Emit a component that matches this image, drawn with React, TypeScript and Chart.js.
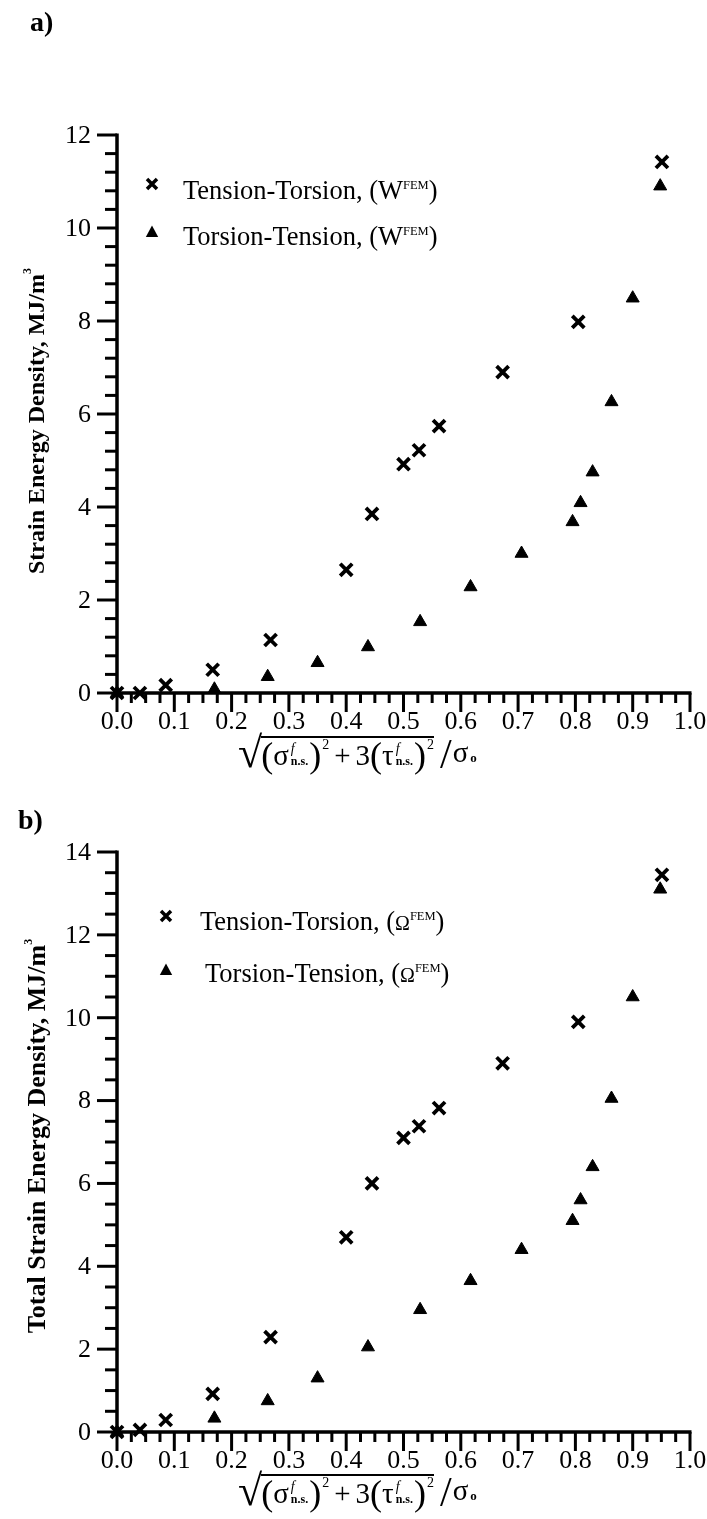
import React, { useEffect, useRef } from "react";
import { Chart, registerables } from "chart.js";

Chart.register(...registerables);

// ---------- data ----------
const xTickLabels = ["0.0", "0.1", "0.2", "0.3", "0.4", "0.5", "0.6", "0.7", "0.8", "0.9", "1.0"];
const topYTickLabels = ["0", "2", "4", "6", "8", "10", "12"];
const bottomYTickLabels = ["0", "2", "4", "6", "8", "10", "12", "14"];

// normalised equivalent stress (x) for each loading path
const xTensionTorsion = [0, 0.04, 0.085, 0.167, 0.268, 0.40, 0.445, 0.50, 0.527, 0.562, 0.673, 0.805, 0.951];
const xTorsionTension = [0, 0.17, 0.263, 0.35, 0.438, 0.529, 0.617, 0.706, 0.795, 0.809, 0.83, 0.863, 0.90, 0.948];

// a) strain energy density W (MJ/m^3)
const wTensionTorsion = [0, 0, 0.17, 0.5, 1.14, 2.65, 3.85, 4.92, 5.22, 5.74, 6.9, 7.98, 11.42];
const wTorsionTension = [0, 0.08, 0.35, 0.65, 0.99, 1.53, 2.28, 3.0, 3.68, 4.09, 4.75, 6.26, 8.49, 10.9];

// b) total strain energy density Omega (MJ/m^3)
const omegaTensionTorsion = [0, 0.05, 0.29, 0.92, 2.29, 4.7, 6.0, 7.1, 7.38, 7.82, 8.9, 9.9, 13.45];
const omegaTorsionTension = [0, 0.33, 0.75, 1.3, 2.05, 2.95, 3.65, 4.4, 5.1, 5.6, 6.4, 8.05, 10.5, 13.1];

const SERIF = "'Liberation Serif', 'Times New Roman', serif";

type PanelCfg = {
  top: number;
  height: number;
  yMax: number;
  yMinor: number;
  yLabels: string[];
  padding: { left: number; right: number; top: number; bottom: number };
  ttY: number[];
  trY: number[];
  legend: { x: number; y1: number; y2: number };
};

function drawCross(ctx: CanvasRenderingContext2D, x: number, y: number, h: number) {
  ctx.beginPath();
  ctx.moveTo(x - h, y - h);
  ctx.lineTo(x + h, y + h);
  ctx.moveTo(x + h, y - h);
  ctx.lineTo(x - h, y + h);
  ctx.stroke();
}

function drawTri(ctx: CanvasRenderingContext2D, x: number, y: number, s: number) {
  ctx.beginPath();
  ctx.moveTo(x, y - s);
  ctx.lineTo(x + s * 0.95, y + s * 0.75);
  ctx.lineTo(x - s * 0.95, y + s * 0.75);
  ctx.closePath();
  ctx.fill();
}

function makeAxesPlugin(cfg: PanelCfg) {
  return {
    id: "paperAxes",
    beforeDatasetsDraw(chart: any) {
      const ctx: CanvasRenderingContext2D = chart.ctx;
      const xs = chart.scales.x;
      const ys = chart.scales.y;
      const X = (v: number) => xs.getPixelForValue(v);
      const Y = (v: number) => ys.getPixelForValue(v);
      const x0 = X(0);
      const x1 = X(1);
      const y0 = Y(0);
      const yT = Y(cfg.yMax);
      ctx.save();
      ctx.strokeStyle = "#000";
      ctx.fillStyle = "#000";
      ctx.lineWidth = 3.5;
      ctx.beginPath();
      ctx.moveTo(x0, yT - 1.5);
      ctx.lineTo(x0, y0 + 1.5);
      ctx.moveTo(x0 - 1.5, y0);
      ctx.lineTo(x1 + 1.5, y0);
      ctx.stroke();

      ctx.lineWidth = 3;
      const nY = Math.round(cfg.yMax / cfg.yMinor);
      for (let i = 0; i <= nY; i++) {
        const v = i * cfg.yMinor;
        const major = Math.abs(v / 2 - Math.round(v / 2)) < 1e-6;
        const len = major ? 20 : 12;
        const py = Y(v);
        ctx.beginPath();
        ctx.moveTo(x0, py);
        ctx.lineTo(x0 - len, py);
        ctx.stroke();
      }
      for (let i = 0; i <= 40; i++) {
        const v = i * 0.025;
        const major = i % 4 === 0;
        const len = major ? 19 : 10;
        const px = X(v);
        ctx.beginPath();
        ctx.moveTo(px, y0);
        ctx.lineTo(px, y0 + len);
        ctx.stroke();
      }

      ctx.font = `26px ${SERIF}`;
      ctx.textAlign = "right";
      ctx.textBaseline = "middle";
      cfg.yLabels.forEach((lab) => ctx.fillText(lab, x0 - 26, Y(Number(lab)) + 1));
      ctx.textAlign = "center";
      ctx.textBaseline = "top";
      xTickLabels.forEach((lab) => ctx.fillText(lab, X(Number(lab)), y0 + 16));

      // legend symbols
      ctx.lineWidth = 3.5;
      drawCross(ctx, cfg.legend.x, cfg.legend.y1, 5);
      drawTri(ctx, cfg.legend.x, cfg.legend.y2, 6.5);
      ctx.restore();
    },
  };
}

function Panel({ cfg }: { cfg: PanelCfg }) {
  const ref = useRef<HTMLCanvasElement>(null);
  useEffect(() => {
    if (!ref.current) return;
    const chart = new Chart(ref.current, {
      type: "scatter",
      data: {
        datasets: [
          {
            label: "Tension-Torsion",
            data: xTensionTorsion.map((x, i) => ({ x, y: cfg.ttY[i] })),
            pointStyle: "crossRot",
            pointRadius: 8.5,
            borderWidth: 3.8,
            borderColor: "#000",
            backgroundColor: "#000",
            showLine: false,
            clip: false,
          } as any,
          {
            label: "Torsion-Tension",
            data: xTorsionTension.map((x, i) => ({ x, y: cfg.trY[i] })),
            pointStyle: "triangle",
            pointRadius: 7.5,
            borderWidth: 1,
            borderColor: "#000",
            backgroundColor: "#000",
            showLine: false,
            clip: false,
          } as any,
        ],
      },
      options: {
        animation: false,
        responsive: false,
        events: [],
        layout: { padding: cfg.padding },
        plugins: { legend: { display: false }, tooltip: { enabled: false } },
        scales: {
          x: { type: "linear", min: 0, max: 1, display: false },
          y: { type: "linear", min: 0, max: cfg.yMax, display: false },
        },
      },
      plugins: [makeAxesPlugin(cfg)],
    });
    return () => chart.destroy();
  }, [cfg]);
  return (
    <canvas
      ref={ref}
      width={707}
      height={cfg.height}
      style={{ position: "absolute", left: 0, top: cfg.top, width: 707, height: cfg.height, display: "block" }}
    />
  );
}

const topCfg: PanelCfg = {
  top: 0,
  height: 780,
  yMax: 12,
  yMinor: 0.4,
  yLabels: topYTickLabels,
  padding: { left: 117, right: 17, top: 135, bottom: 87 },
  ttY: wTensionTorsion,
  trY: wTorsionTension,
  legend: { x: 152, y1: 184, y2: 232 },
};

const bottomCfg: PanelCfg = {
  top: 780,
  height: 739,
  yMax: 14,
  yMinor: 0.5,
  yLabels: bottomYTickLabels,
  padding: { left: 117, right: 17, top: 72, bottom: 87 },
  ttY: omegaTensionTorsion,
  trY: omegaTorsionTension,
  legend: { x: 166, y1: 916 - 780, y2: 970 - 780 },
};

function Stack() {
  return (
    <span
      style={{
        display: "inline-flex",
        flexDirection: "column",
        fontSize: 14,
        lineHeight: "12px",
        margin: "0 1px 0 2px",
        verticalAlign: "middle",
      }}
    >
      <span style={{ fontStyle: "italic" }}>f</span>
      <span style={{ fontWeight: "bold", fontSize: 12 }}>n.s.</span>
    </span>
  );
}

function Formula({ top }: { top: number }) {
  const paren = { fontSize: 36, lineHeight: "34px" };
  const sq = { fontSize: 14, alignSelf: "flex-start" as const, lineHeight: "14px", marginLeft: 1 };
  return (
    <div
      style={{
        position: "absolute",
        left: 238,
        top,
        display: "flex",
        alignItems: "flex-end",
        fontFamily: SERIF,
        fontSize: 29,
        color: "#000",
        whiteSpace: "nowrap",
      }}
    >
      <span style={{ fontSize: 44, lineHeight: "42px", marginRight: -1 }}>√</span>
      <span
        style={{
          borderTop: "2px solid #000",
          display: "inline-flex",
          alignItems: "center",
          lineHeight: "34px",
          marginBottom: 2,
        }}
      >
        <span style={paren}>(</span>σ<Stack />
        <span style={paren}>)</span>
        <span style={sq}>2</span>
        <span style={{ margin: "0 5px" }}>+</span>3<span style={paren}>(</span>τ<Stack />
        <span style={paren}>)</span>
        <span style={sq}>2</span>
      </span>
      <span style={{ fontSize: 42, lineHeight: "40px", margin: "0 1px 0 6px" }}>/</span>
      <span style={{ lineHeight: "32px" }}>
        σ<span style={{ fontSize: 13, fontWeight: "bold", marginLeft: 2 }}>o</span>
      </span>
    </div>
  );
}

function LegendText({ left, cy, text, sym }: { left: number; cy: number; text: string; sym: string }) {
  return (
    <div
      style={{
        position: "absolute",
        left,
        top: cy - 16,
        fontFamily: SERIF,
        fontSize: 26.5,
        lineHeight: "32px",
        color: "#000",
        whiteSpace: "nowrap",
      }}
    >
      {text}, (
      {sym === "W" ? "W" : <span style={{ fontSize: 20 }}>Ω</span>}
      <sup style={{ fontSize: 12.5, verticalAlign: "10px" }}>FEM</sup>)
    </div>
  );
}

function YTitle({ cx, cy, text, size }: { cx: number; cy: number; text: string; size: number }) {
  return (
    <div
      style={{
        position: "absolute",
        left: cx,
        top: cy,
        transform: "translate(-50%, -50%) rotate(-90deg)",
        fontFamily: SERIF,
        fontWeight: "bold",
        fontSize: size,
        lineHeight: "26px",
        color: "#000",
        whiteSpace: "nowrap",
      }}
    >
      {text}, MJ/m<sup style={{ fontSize: 12, verticalAlign: "13px" }}>3</sup>
    </div>
  );
}

export default function App() {
  return (
    <div style={{ position: "absolute", left: 0, top: 0, width: 707, height: 1519, background: "#fff", overflow: "hidden" }}>
      <Panel cfg={topCfg} />
      <Panel cfg={bottomCfg} />
      <div style={{ position: "absolute", left: 30, top: 6, fontFamily: SERIF, fontWeight: "bold", fontSize: 28 }}>a)</div>
      <div style={{ position: "absolute", left: 18, top: 804, fontFamily: SERIF, fontWeight: "bold", fontSize: 28 }}>b)</div>
      <LegendText left={183} cy={185} text="Tension-Torsion" sym="W" />
      <LegendText left={183} cy={231} text="Torsion-Tension" sym="W" />
      <LegendText left={200} cy={916} text="Tension-Torsion" sym="O" />
      <LegendText left={205} cy={968} text="Torsion-Tension" sym="O" />
      <YTitle cx={31} cy={421} text="Strain Energy Density" size={24} />
      <YTitle cx={32} cy={1136} text="Total Strain Energy Density" size={26} />
      <Formula top={732} />
      <Formula top={1470} />
    </div>
  );
}
